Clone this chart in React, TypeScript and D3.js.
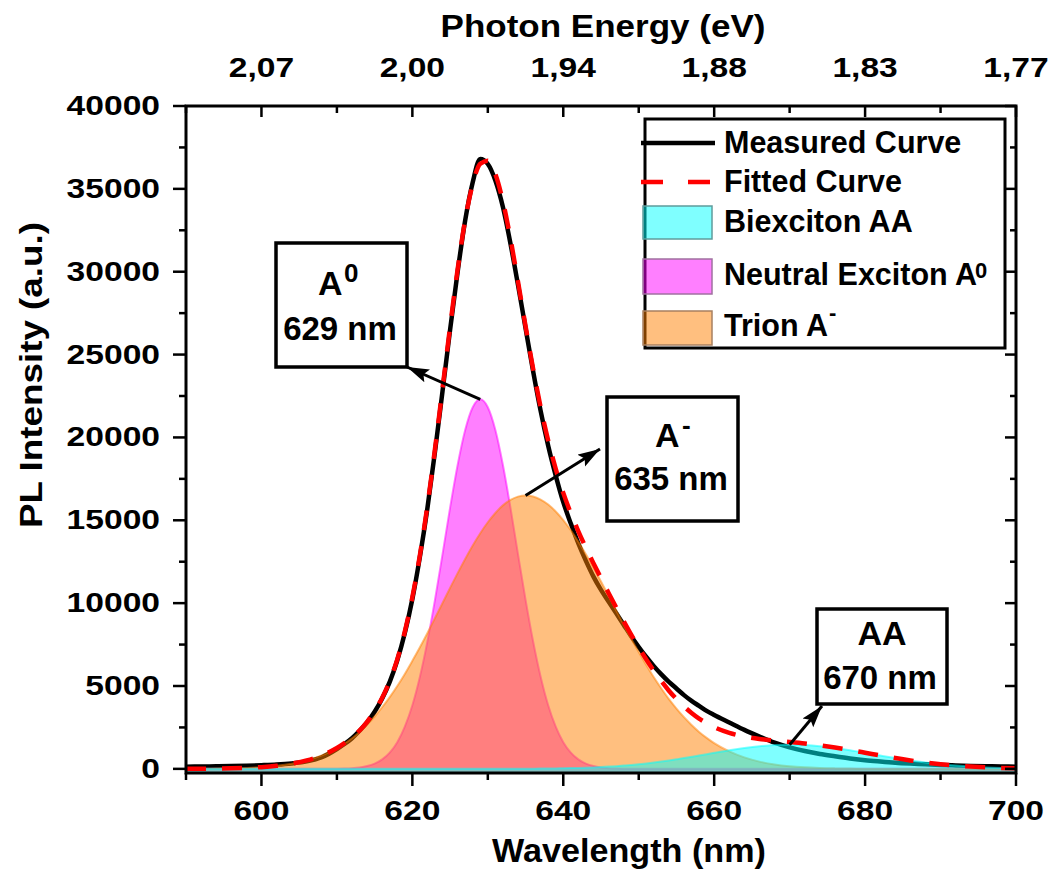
import React from 'react';
import * as d3 from 'd3';

// Wavelength grid (nm) shared by every series
const wavelength = [
  590, 592, 594, 596, 598, 600, 602, 604, 606, 608,
  610, 611, 612, 613, 614, 615, 616, 617, 618, 619,
  620, 621, 622, 623, 624, 625, 626, 627, 628, 629,
  630, 631, 632, 633, 634, 635, 636, 637, 638, 639,
  640, 641, 642, 643, 644, 645, 646, 647, 648, 649,
  650, 651, 652, 653, 654, 655, 656, 657, 658, 659,
  660, 662, 664, 666, 668, 670, 672, 674, 676, 678,
  680, 682, 684, 686, 688, 690, 692, 694, 696, 698, 700,
];

// PL intensity (a.u.)
const measured = [
  130, 140, 155, 170, 190, 220, 260, 330, 450, 700,
  1200, 1500, 1850, 2300, 2800, 3450, 4250, 5250, 6550, 8200,
  10250, 12800, 15750, 19150, 22800, 26500, 30000, 33100, 35400, 36800,
  36500, 35500, 33900, 31700, 29200, 26600, 24000, 21600, 19500, 17700,
  16100, 14800, 13600, 12550, 11600, 10800, 10100, 9400, 8700, 8000,
  7350, 6750, 6200, 5700, 5250, 4850, 4450, 4100, 3800, 3500,
  3250, 2800, 2350, 1950, 1580, 1300, 1080, 900, 760, 630,
  520, 440, 370, 320, 280, 240, 210, 180, 160, 145, 130,
];

const fitted = [
  4, 8, 16, 31, 58, 104, 183, 311, 510, 810,
  1259, 1550, 1892, 2316, 2840, 3480, 4290, 5310, 6610, 8280,
  10360, 12900, 15900, 19310, 22970, 26680, 30150, 33120, 35300, 36520,
  36702, 35893, 34244, 31995, 29397, 26719, 24152, 21826, 19811, 18108,
  16655, 15425, 14337, 13342, 12409, 11506, 10617, 9754, 8917, 8096,
  7330, 6599, 5913, 5292, 4717, 4217, 3769, 3376, 3035, 2756,
  2516, 2171, 1948, 1803, 1705, 1621, 1529, 1419, 1287, 1136,
  974, 809, 651, 508, 383, 280, 198, 135, 89, 57, 35,
];

const neutralA0 = [
  0, 0, 0, 0, 0, 0, 0, 0, 0, 0,
  9, 20, 42, 86, 170, 320, 570, 980, 1610, 2550,
  3840, 5560, 7700, 10210, 12960, 15760, 18340, 20450, 21820, 22300,
  21820, 20450, 18340, 15760, 12960, 10210, 7700, 5560, 3840, 2550,
  1610, 980, 570, 320, 170, 86, 42, 20, 9, 0,
  0, 0, 0, 0, 0, 0, 0, 0, 0, 0,
  0, 0, 0, 0, 0, 0, 0, 0, 0, 0,
  0, 0, 0, 0, 0, 0, 0, 0, 0, 0, 0,
];

const trionA = [
  4, 8, 16, 31, 58, 104, 183, 311, 510, 810,
  1250, 1530, 1850, 2230, 2670, 3160, 3720, 4330, 5000, 5730,
  6520, 7340, 8200, 9100, 10010, 10920, 11810, 12670, 13480, 14220,
  14880, 15440, 15900, 16230, 16430, 16500, 16440, 16250, 15950, 15530,
  15010, 14400, 13710, 12950, 12150, 11310, 10440, 9570, 8710, 7860,
  7050, 6270, 5530, 4850, 4210, 3640, 3120, 2650, 2230, 1870,
  1550, 1050, 690, 436, 269, 161, 93, 52, 29, 15,
  8, 4, 2, 1, 0, 0, 0, 0, 0, 0, 0,
];

const biexcitonAA = [
  0, 0, 0, 0, 0, 0, 0, 0, 0, 0,
  0, 0, 0, 0, 0, 0, 0, 0, 0, 0,
  0, 0, 0, 0, 0, 0, 0, 0, 0, 0,
  2, 3, 4, 5, 7, 9, 12, 16, 21, 28,
  35, 45, 57, 72, 89, 110, 135, 164, 198, 236,
  280, 329, 383, 442, 507, 577, 649, 726, 805, 886,
  966, 1121, 1258, 1367, 1436, 1460, 1436, 1367, 1258, 1121,
  966, 805, 649, 507, 383, 280, 198, 135, 89, 57, 35,
];

// Axes
const xMajorTicks = [600, 620, 640, 660, 680, 700];
const xMinorTicks = [590, 610, 630, 650, 670, 690];
const energyLabels = ['2,07', '2,00', '1,94', '1,88', '1,83', '1,77'];
const yMajorTicks = [0, 5000, 10000, 15000, 20000, 25000, 30000, 35000, 40000];
const yMinorTicks = [2500, 7500, 12500, 17500, 22500, 27500, 32500, 37500];

const FONT = "'Liberation Sans', Arial, Helvetica, sans-serif";
const W = 1053;
const H = 876;
const plot = { left: 186, right: 1016, top: 106, bottom: 773 };

type Pt = [number, number];

function SText(props: {
  x: number; y: number; size: number; sx?: number; anchor?: string; rotate?: number;
  children: React.ReactNode;
}) {
  const { x, y, size, sx = 1, anchor = 'start', rotate = 0, children } = props;
  return (
    <text
      transform={`translate(${x},${y}) rotate(${rotate}) scale(${sx},1)`}
      textAnchor={anchor as any}
      fontSize={size}
      fontFamily={FONT}
      fontWeight="bold"
      fill="#000"
    >
      {children}
    </text>
  );
}

const components = [
  { key: 'pink', values: neutralA0, color: '#FF00FF' },
  { key: 'orange', values: trionA, color: '#FF8000' },
  { key: 'cyan', values: biexcitonAA, color: '#00FFFF' },
];

// Callout boxes pointing at the component peaks
const callouts = [
  {
    series: neutralA0, box: { x: 276, y: 243, w: 131, h: 124 }, tip: [407, 367] as Pt,
    name: 'A', nameX: 318, nameY: 295, sup: '0', supX: 344, supY: 282, valueX: 340, valueY: 340, nameAnchor: 'start',
  },
  {
    series: trionA, box: { x: 607, y: 397, w: 131, h: 124 }, tip: [600, 449] as Pt,
    name: 'A', nameX: 655, nameY: 447, sup: '-', supX: 682, supY: 434, valueX: 671, valueY: 490, nameAnchor: 'start',
  },
  {
    series: biexcitonAA, box: { x: 817, y: 609, w: 130, h: 95 }, tip: [822, 706] as Pt,
    name: 'AA', nameX: 882, nameY: 645, sup: '', supX: 0, supY: 0, valueX: 880, valueY: 689, nameAnchor: 'middle',
  },
];

export default function App() {
  const x = d3.scaleLinear().domain([590, 700]).range([plot.left, plot.right]);
  const y = d3.scaleLinear().domain([-250, 40000]).range([plot.bottom, plot.top]);
  const yBase = y(y.domain()[0]);

  const toPts = (vals: number[]): Pt[] => wavelength.map((w, i) => [w, vals[i]] as Pt);
  const line = d3.line<Pt>().x((d) => x(d[0])).y((d) => y(d[1])).curve(d3.curveMonotoneX);
  const area = d3.area<Pt>().x((d) => x(d[0])).y0(yBase).y1((d) => y(d[1])).curve(d3.curveMonotoneX);

  const peakOf = (vals: number[]): Pt => {
    const i = d3.maxIndex(vals);
    return [wavelength[i], vals[i]];
  };

  return (
    <svg width={W} height={H} style={{ position: 'absolute', left: 0, top: 0, background: '#fff' }}>
      <defs>
        <clipPath id="plotClip">
          <rect x={plot.left} y={plot.top} width={plot.right - plot.left} height={plot.bottom - plot.top} />
        </clipPath>
        <marker id="arrowHead" markerUnits="userSpaceOnUse" markerWidth="26" markerHeight="18"
          refX="22" refY="8" orient="auto">
          <path d="M0,1 L22,8 L0,15 L4,8 z" fill="#000" />
        </marker>
      </defs>

      <g clipPath="url(#plotClip)">
        {/* measured spectrum */}
        <path d={line(toPts(measured)) || ''} fill="none" stroke="#000" strokeWidth={4.5} />
        {/* fitted components */}
        {components.map((c) => (
          <g key={c.key}>
            <path d={area(toPts(c.values)) || ''} fill={c.color} fillOpacity={0.5} stroke="none" />
            <path d={line(toPts(c.values)) || ''} fill="none" stroke={c.color} strokeOpacity={0.5} strokeWidth={2} />
          </g>
        ))}
        {/* cumulative fit */}
        <path d={line(toPts(fitted)) || ''} fill="none" stroke="#FF0000" strokeWidth={4.5} strokeDasharray="20 16" />
      </g>

      {/* frame */}
      <rect x={plot.left} y={plot.top} width={plot.right - plot.left} height={plot.bottom - plot.top}
        fill="none" stroke="#000" strokeWidth={3} />

      {/* bottom axis */}
      {xMajorTicks.map((t) => (
        <g key={`bx${t}`}>
          <line x1={x(t)} x2={x(t)} y1={plot.bottom} y2={plot.bottom + 13} stroke="#000" strokeWidth={2.5} />
          <SText x={x(t)} y={820} size={28} sx={1.2} anchor="middle">{String(t)}</SText>
        </g>
      ))}
      {xMinorTicks.map((t) => (
        <line key={`bxm${t}`} x1={x(t)} x2={x(t)} y1={plot.bottom} y2={plot.bottom + 7} stroke="#000" strokeWidth={2.5} />
      ))}

      {/* top axis: photon energy */}
      {xMajorTicks.map((t, i) => (
        <g key={`tx${t}`}>
          <line x1={x(t)} x2={x(t)} y1={plot.top} y2={plot.top + 11} stroke="#000" strokeWidth={2.5} />
          <SText x={x(t)} y={77} size={28} sx={1.2} anchor="middle">{energyLabels[i]}</SText>
        </g>
      ))}
      {xMinorTicks.map((t) => (
        <line key={`txm${t}`} x1={x(t)} x2={x(t)} y1={plot.top} y2={plot.top + 7} stroke="#000" strokeWidth={2.5} />
      ))}

      {/* left and right axes */}
      {yMajorTicks.map((t) => (
        <g key={`ly${t}`}>
          <line x1={plot.left - 13} x2={plot.left} y1={y(t)} y2={y(t)} stroke="#000" strokeWidth={2.5} />
          <line x1={plot.right - 11} x2={plot.right} y1={y(t)} y2={y(t)} stroke="#000" strokeWidth={2.5} />
          <SText x={160} y={y(t) + 9} size={28} sx={1.2} anchor="end">{String(t)}</SText>
        </g>
      ))}
      {yMinorTicks.map((t) => (
        <g key={`lym${t}`}>
          <line x1={plot.left - 7} x2={plot.left} y1={y(t)} y2={y(t)} stroke="#000" strokeWidth={2.5} />
          <line x1={plot.right - 6} x2={plot.right} y1={y(t)} y2={y(t)} stroke="#000" strokeWidth={2.5} />
        </g>
      ))}

      {/* axis titles */}
      <SText x={629} y={862} size={33} sx={1.035} anchor="middle">Wavelength (nm)</SText>
      <SText x={603} y={37} size={31} sx={1.13} anchor="middle">Photon Energy (eV)</SText>
      <SText x={42} y={375} size={32} sx={1.15} anchor="middle" rotate={-90}>PL Intensity (a.u.)</SText>

      {/* legend */}
      <g>
        <rect x={645} y={119} width={360} height={229} fill="#fff" stroke="#000" strokeWidth={3} />
        <line x1={641} x2={715} y1={143} y2={143} stroke="#000" strokeWidth={4.5} />
        <SText x={724} y={153} size={30.5}>Measured Curve</SText>
        <line x1={641} x2={712} y1={182} y2={182} stroke="#FF0000" strokeWidth={4.5} strokeDasharray="22 25" />
        <SText x={724} y={192} size={30.5}>Fitted Curve</SText>
        <rect x={643} y={206} width={69} height={33} fill="#00FFFF" fillOpacity={0.5} stroke="#5f9c9c" strokeWidth={1.5} />
        <SText x={724} y={232} size={30.5}>Biexciton AA</SText>
        <rect x={643} y={259} width={69} height={35} fill="#FF00FF" fillOpacity={0.5} stroke="#a070a0" strokeWidth={1.5} />
        <SText x={724} y={285} size={30.5}>Neutral Exciton A</SText>
        <SText x={975} y={278} size={22}>0</SText>
        <rect x={643} y={311} width={69} height={34} fill="#FF8000" fillOpacity={0.5} stroke="#a88060" strokeWidth={1.5} />
        <SText x={724} y={336} size={30.5}>Trion A</SText>
        <SText x={829} y={320} size={22}>-</SText>
      </g>

      {/* callouts */}
      {callouts.map((c, i) => {
        const [pw, pv] = peakOf(c.series);
        return (
          <g key={`co${i}`}>
            <line x1={x(pw)} y1={y(pv)} x2={c.tip[0]} y2={c.tip[1]} stroke="#000" strokeWidth={3}
              markerEnd="url(#arrowHead)" />
            <rect x={c.box.x} y={c.box.y} width={c.box.w} height={c.box.h} fill="#fff" stroke="#000" strokeWidth={3.5} />
            <SText x={c.nameX} y={c.nameY} size={34} anchor={c.nameAnchor}>{c.name}</SText>
            {c.sup && <SText x={c.supX} y={c.supY} size={26}>{c.sup}</SText>}
            <SText x={c.valueX} y={c.valueY} size={33} anchor="middle">{`${pw} nm`}</SText>
          </g>
        );
      })}
    </svg>
  );
}
